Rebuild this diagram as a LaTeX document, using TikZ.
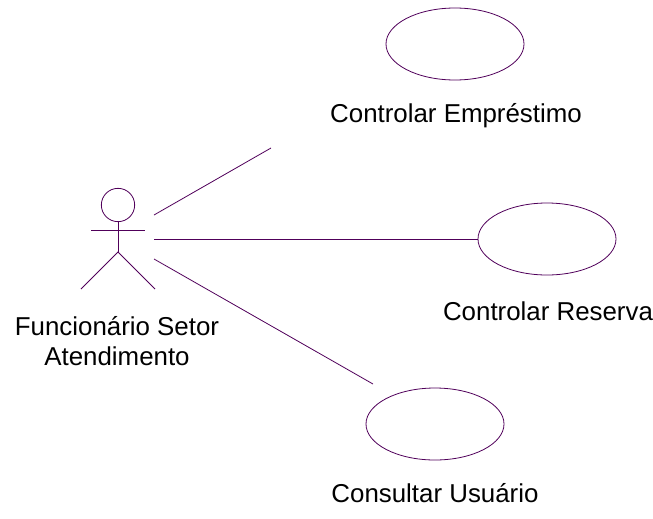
\documentclass[tikz,border=0pt]{standalone}
\usepackage{fontspec}
\setmainfont{Liberation Sans}
\usetikzlibrary{shapes.geometric}
\definecolor{umlline}{RGB}{80,0,90}
\tikzset{
  ucase/.style={draw=umlline,line width=0.6pt,ellipse,minimum width=103.5pt,minimum height=54pt,inner sep=0pt},
  lnk/.style={draw=umlline,line width=0.6pt},
  lbl/.style={font=\fontsize{19.4}{22.5}\selectfont,align=center,inner sep=0pt,text=black},
}
\begin{document}
\begin{tikzpicture}[x=0.75pt,y=-0.75pt]
\useasboundingbox (0,0) rectangle (653,518);
\node[ucase] (u1) at (455,44) {};
\node[ucase] (u2) at (547,239) {};
\node[ucase] (u3) at (435,424) {};
\node[lbl] (t1) at (456,116) {Controlar Empréstimo};
\node[lbl] (t2) at (548,311) {Controlar Reserva};
\node[lbl] (t3) at (435,493) {Consultar Usuário};
\node[lbl] (t4) at (117,341) {Funcionário Setor\\Atendimento};
\node[circle,draw=umlline,line width=0.6pt,minimum size=25pt,inner sep=0pt] (head) at (118,205) {};
\coordinate (hip) at (118,252);
\coordinate (al) at (91,230);
\coordinate (ar) at (145,230);
\coordinate (fl) at (81,289);
\coordinate (fr) at (155,289);
\draw[lnk] (head.south) -- (hip);
\draw[lnk] (al) -- (ar);
\draw[lnk] (fl) -- (hip) -- (fr);
\coordinate (a1) at (154,215);
\coordinate (e1) at (271,148);
\coordinate (a2) at (154,239);
\coordinate (a3) at (154,259);
\coordinate (e3) at (373,384);
\draw[lnk] (a1) -- (e1);
\draw[lnk] (a2) -- (u2.west);
\draw[lnk] (a3) -- (e3);
\end{tikzpicture}
\end{document}
